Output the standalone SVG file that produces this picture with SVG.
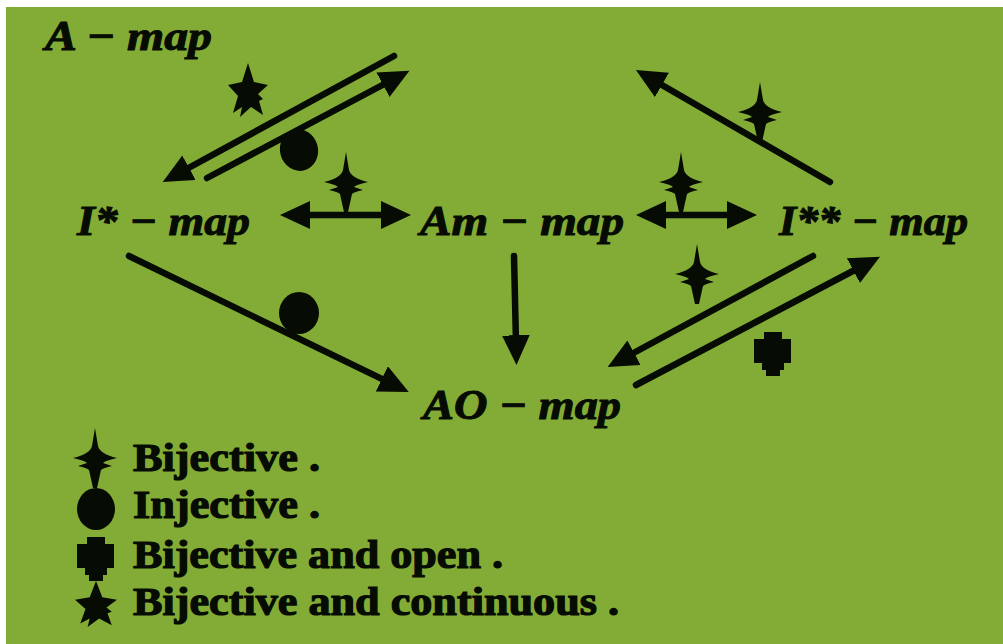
<svg xmlns="http://www.w3.org/2000/svg" width="1003" height="644" viewBox="0 0 1003 644">
<style>
.m{font-family:"Liberation Serif","Times New Roman",serif;font-style:italic;font-weight:bold;font-size:42px;fill:#060b03;stroke:#060b03;stroke-width:1px}
.l{font-family:"Liberation Serif","Times New Roman",serif;font-weight:bold;font-size:40px;fill:#060b03;stroke:#060b03;stroke-width:1.2px}
.c{fill:none;stroke:#060b03;stroke-width:6.500;stroke-linecap:round}
.s{fill:#060b03}
</style>
<defs>
<marker id="a" markerUnits="userSpaceOnUse" markerWidth="34" markerHeight="30" refX="8" refY="14" orient="auto-start-reverse"><path d="M0 0L30 14L0 28Z" fill="#060b03"/></marker>
<path id="sp" d="M0-32L3-14Q5-6 22-2Q9 1 8 3L17 6Q8 8 6 10L2 28H-2L-6 10Q-8 8-17 6L-8 3Q-9 1-22-2Q-5-6-3-14Z"/>
<path id="st" d="M0-27L6-8L20-5L10 4L15 9L11 11L15 25L3 17L-8 27L-6 17L-15 23L-10 6L-20-5L-6-8Z"/>
<path id="pl" d="M-9-20H9V-13H18V11H11V18H7V24H-7V18H-11V11H-19V-13H-9Z"/>
</defs>
<rect width="1003" height="644" fill="#fff"/>
<rect x="6" y="7" width="997" height="637" fill="#83ac36"/>
<g id="connectors">
<path class="c" d="M394 56L182 171.500" marker-end="url(#a)"/>
<path class="c" d="M207 178L390 81" marker-end="url(#a)"/>
<path class="c" d="M302 215H389" marker-start="url(#a)" marker-end="url(#a)"/>
<path class="c" d="M658 215H735" marker-start="url(#a)" marker-end="url(#a)"/>
<path class="c" d="M830 182L655 81" marker-end="url(#a)"/>
<path class="c" d="M129 256L389 382.400" marker-end="url(#a)"/>
<path class="c" d="M514 256L516 343" marker-end="url(#a)"/>
<path class="c" d="M813 256L627 356.500" marker-end="url(#a)"/>
<path class="c" d="M636 385L860.500 267" marker-end="url(#a)"/>
</g>
<g id="node-a-map"><text class="m" x="45" y="50" textLength="167" lengthAdjust="spacingAndGlyphs">A − map</text></g>
<g id="node-i-star-map"><text class="m" x="77" y="235" textLength="173" lengthAdjust="spacingAndGlyphs">I* − map</text></g>
<g id="node-am-map"><text class="m" x="420" y="235" textLength="204" lengthAdjust="spacingAndGlyphs">Am − map</text></g>
<g id="node-i-star-star-map"><text class="m" x="779" y="235" textLength="189" lengthAdjust="spacingAndGlyphs">I** − map</text></g>
<g id="node-ao-map"><text class="m" x="423" y="419" textLength="198" lengthAdjust="spacingAndGlyphs">AO − map</text></g>
<g id="symbols" class="s">
<use href="#st" x="248" y="90"/>
<ellipse cx="299" cy="150" rx="19" ry="21" transform="rotate(-15 299 150)"/>
<use href="#sp" x="346" y="184"/>
<use href="#sp" x="681" y="184"/>
<use href="#sp" x="760" y="114"/>
<use href="#sp" x="697" y="276"/>
<ellipse cx="299" cy="313" rx="20" ry="21"/>
<use href="#pl" x="773" y="352"/>
</g>
<g id="legend">
<use class="s" href="#sp" x="95" y="460"/>
<ellipse class="s" cx="96" cy="509" rx="19" ry="21"/>
<use class="s" href="#pl" x="96" y="557"/>
<use class="s" href="#st" transform="translate(96 604) scale(1.05 .85)"/>
<text class="l" x="133" y="471" textLength="187" lengthAdjust="spacingAndGlyphs">Bijective .</text>
<text class="l" x="133" y="518" textLength="187" lengthAdjust="spacingAndGlyphs">Injective .</text>
<text class="l" x="133" y="568" textLength="370" lengthAdjust="spacingAndGlyphs">Bijective and open .</text>
<text class="l" x="133" y="615" textLength="486" lengthAdjust="spacingAndGlyphs">Bijective and continuous .</text>
</g>
</svg>
